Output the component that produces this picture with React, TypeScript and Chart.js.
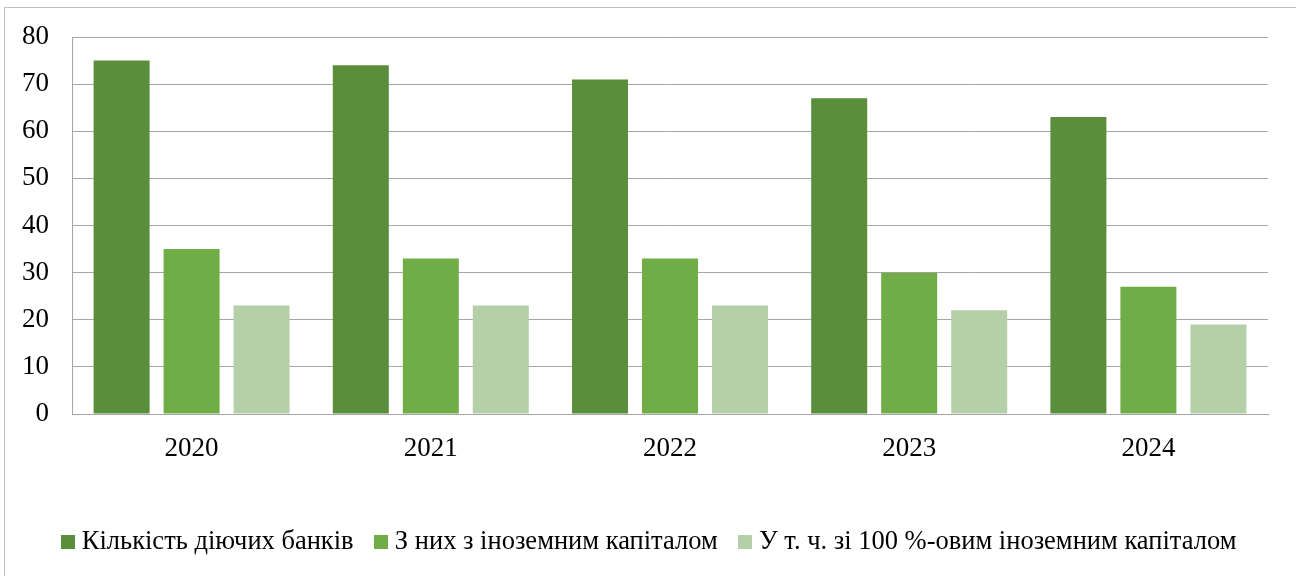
import React, { useEffect, useRef } from "react";
import { Chart, registerables } from "chart.js";

Chart.register(...registerables);

const years = ["2020", "2021", "2022", "2023", "2024"];
const activeBanks = [75, 74, 71, 67, 63];
const foreignCapital = [35, 33, 33, 30, 27];
const fullForeignCapital = [23, 23, 23, 22, 19];
const seriesNames = [
  "Кількість діючих банків",
  "З них з іноземним капіталом",
  "У т. ч. зі 100 %-овим іноземним капіталом",
];
const seriesColors = ["#5b8e3a", "#70ad47", "#b5d0a9"];
const yTicks = [0, 10, 20, 30, 40, 50, 60, 70, 80];

const FONT = "'Liberation Serif', 'Times New Roman', serif";
const GRID = "#a6a6a6";

const framePlugin = {
  id: "frame",
  beforeDraw(chart: any) {
    const ctx = chart.ctx;
    ctx.save();
    ctx.strokeStyle = "#bfbfbf";
    ctx.lineWidth = 1;
    ctx.strokeRect(4.5, 7.5, 1400, 700);
    ctx.restore();
  },
  afterLayout(chart: any) {
    const l = chart.legend;
    if (l) {
      l.left += 18;
      l.right += 18;
    }
  },
};

function makeBox(color: string) {
  const c = document.createElement("canvas");
  c.width = 14;
  c.height = 14;
  const g = c.getContext("2d")!;
  g.fillStyle = color;
  g.fillRect(0, 0, 14, 14);
  return c;
}

export default function App() {
  const ref = useRef<HTMLCanvasElement>(null);
  useEffect(() => {
    document.body.style.margin = "0";
    const boxes = seriesColors.map(makeBox);
    const chart = new Chart(ref.current!, {
      type: "bar",
      data: {
        labels: years,
        datasets: [
          { label: seriesNames[0], data: activeBanks, backgroundColor: seriesColors[0] },
          { label: seriesNames[1], data: foreignCapital, backgroundColor: seriesColors[1] },
          { label: seriesNames[2], data: fullForeignCapital, backgroundColor: seriesColors[2] },
        ],
      },
      options: {
        responsive: false,
        animation: false,
        events: [],
        layout: { padding: { top: 37, right: 28, left: 0, bottom: 11 } },
        datasets: { bar: { barPercentage: 0.8, categoryPercentage: 0.878 } },
        plugins: {
          tooltip: { enabled: false },
          legend: {
            position: "bottom",
            labels: {
              usePointStyle: true,
              pointStyleWidth: 1,
              boxHeight: 14,
              padding: 27,
              color: "#000",
              font: { family: FONT, size: 26.5 },
              generateLabels(chart: any) {
                const base = Chart.defaults.plugins.legend.labels.generateLabels(chart);
                return base.map((l: any, i: number) => ({ ...l, pointStyle: boxes[i] }));
              },
            },
          },
        },
        scales: {
          x: {
            grid: { display: false },
            border: { display: true, color: GRID },
            ticks: { color: "#000", padding: 11, font: { family: FONT, size: 27 } },
            afterFit(scale: any) {
              scale.height = 87.5;
            },
          },
          y: {
            min: 0,
            max: 80,
            afterBuildTicks(scale: any) {
              scale.ticks = yTicks.map((v) => ({ value: v }));
            },
            grid: { color: GRID, drawTicks: false },
            border: { display: true, color: GRID },
            ticks: { color: "#000", padding: 23, font: { family: FONT, size: 27, lineHeight: 1 } },
            afterFit(scale: any) {
              scale.width = 72;
            },
          },
        },
      },
      plugins: [framePlugin],
    });
    return () => chart.destroy();
  }, []);
  return (
    <div style={{ position: "fixed", left: 0, top: 0, width: 1296, height: 576 }}>
      <canvas ref={ref} width={1296} height={576} />
    </div>
  );
}
